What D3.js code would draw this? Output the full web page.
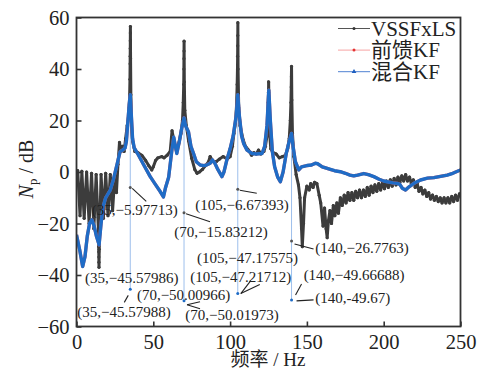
<!DOCTYPE html>
<html>
<head>
<meta charset="utf-8">
<script src="https://cdn.jsdelivr.net/npm/d3@7"></script>
<style>
  body { margin: 0; background: #fff; }
  text { font-family: "Liberation Serif", "Noto Sans CJK SC", serif; fill: #222; }
</style>
</head>
<body>
<div id="chart"></div>
<script>
const MARGIN = {TOP: 17.5, BOTTOM: 45.5, LEFT: 76.5, RIGHT: 20.5};
const W = 481, H = 372;
const WIDTH = W - MARGIN.LEFT - MARGIN.RIGHT;
const HEIGHT = H - MARGIN.TOP - MARGIN.BOTTOM;

// series names
const seriesNames = ['VSSFxLS', '前馈KF', '混合KF'];
const xTicks = [0, 50, 100, 150, 200, 250];
const yTicks = [-60, -40, -20, 0, 20, 40, 60];

// VSSFxLS [Hz, dB]
const vssfxls = [
  [0,-1],[0.8,0.5],[2.3,-17],[3.5,0.3],[5,-18],[6.6,0],[8.2,-20],[9.8,-0.5],[11.3,-22],[12.8,-1],
  [14.3,-23],[14.4,-26],[14.45,-29],[14.5,-31],[14.55,-33],[14.6,-35],[14.65,-37],[14.8,-30],[15.2,-20],
  [16,-1],[17.5,-18],[19,-0.5],[20.5,-17],[22,-1],[23.5,-15],[25,-1],[26,-8],[27,3],[28,11.5],[29,8],
  [30,10],[31,8],[32,13],[33,18],[33.8,21],[34.3,25],[34.6,30],[34.8,36],[34.9,42],[34.95,45],[35,48],
  [35.03,51],[35.06,54],[35.1,56.5],[35.2,44],[35.4,30],[35.8,18],[36.5,12],[38,8],[40,7.5],[42.5,6.5],
  [45,4.5],[47,2.5],[49,0.8],[50,2],[51.5,4.5],[53,5.5],[55.5,6],[57,5.5],[59,6.5],[61,8],[62.2,16],
  [63.5,12],[65,8.5],[66.5,11],[68,15],[69,20],[69.5,27],[69.8,34],[69.9,40],[69.95,44],[70,47],
  [70.05,50.8],[70.2,35],[70.5,24],[71.5,18],[73,12],[75,5.3],[77,1],[78.5,-0.5],[80,0],[82,1],
  [84,2.5],[86,4],[87,6],[89,4],[91,4],[93,5],[95.5,6],[98,5],[100,6],[101.5,10],[102.5,15],
  [103.5,19],[104.2,26],[104.6,34],[104.8,40],[104.9,45],[104.95,49],[105,53],[105.05,58],[105.2,40],
  [105.6,25],[106.5,18],[108.5,12.5],[110,10],[112,8.5],[114,6.5],[115.5,7.5],[117,7],[118.5,8.5],
  [120,7],[122,8],[123,10],[124,14],[124.5,20],[124.8,27],[125,31],[125.1,35],[125.3,25],[125.7,15],
  [126.5,9],[128,7.5],[130,7],[132,5.5],[134,6],[136,6.5],[137.5,9],[138.5,13],[139.2,20],[139.6,27],
  [139.8,33],[139.9,37],[140,41],[140.2,28],[140.6,15],[141.5,6],[143,-1],[144.5,-5],[145.5,-10],
  [146.5,-22],[147,-29],[147.8,-20],[148.5,-10],[150,-5.5],[151.5,-7],[152.5,-4.5],[154,-6],[155,-4],
  [156.5,-4.5],[158,-9],[159,-12],[160.5,-21],[161.5,-14],[162.5,-22],[163.2,-25.5],[164,-19],
  [165,-15],[166,-20],[167.2,-13],[168.2,-17],[169.5,-12],[170.5,-16],[171.8,-10],[173,-13],
  [174.3,-9],[175.5,-12],[176.8,-8],[178,-11],[179.3,-8],[180.5,-11],[181.8,-7.5],[183,-10],
  [184.3,-7],[185.5,-10],[186.8,-7],[188,-9.5],[189.3,-6],[190.5,-9],[191.8,-5.5],[193,-8],
  [194.3,-5],[195.5,-7.5],[196.8,-4.5],[198,-7],[199.3,-4],[200.5,-6.5],[201.8,-3.5],[203,-6],
  [204.3,-3],[205.5,-5.5],[206.8,-2.5],[208,-5],[209.3,-2],[210.5,-4],[211.8,-1.5],[213,-3.5],
  [214.3,-1],[215.5,-3.5],[216.8,-2],[218,-4.5],[219.3,-3],[220.5,-6],[221.8,-4.5],[223,-7.5],
  [224.3,-6],[225.5,-8.5],[226.8,-7],[228,-9.5],[229.3,-8],[230.5,-10.5],[231.8,-9],[233,-11],
  [234.3,-9.5],[235.5,-11.5],[236.8,-10],[238,-12],[239.3,-10],[240.5,-12],[241.8,-10],[243,-12],
  [244.3,-9.5],[245.5,-11.5],[246.8,-9],[248,-11],[249.3,-8.5],[250,-9]
];

// 混合KF [Hz, dB]
const hybridKF = [
  [0,-24.4],[2,-30],[4,-36.7],[5.5,-33],[7,-25],[8.5,-20],[10,-18.6],[11.5,-21],[13,-25],[14.7,-28.3],
  [16,-20],[17.3,-13.5],[19,-10],[22,-7],[24,-3],[26,2],[28.4,7.9],[30,8.5],[31.6,9.3],[32.5,12],
  [33.5,20],[34.3,26],[35,30],[35.7,22],[36.5,13],[37.5,9.5],[40.3,6.6],[44,2.5],[48,-1.8],[51,-4.5],
  [54.5,-7.6],[56.6,-9.7],[58,-6],[60,-2],[62,8],[63.3,13.5],[65.3,7.2],[67,12],[68.5,17],[70,21],
  [71,18],[72.9,15.6],[74.5,10],[76.2,7.2],[78,4],[80.5,2.7],[83,2.5],[85,2.8],[87,3.4],[88.5,4.7],
  [90,3.5],[92,1],[94.7,-1.8],[96,0],[98,5],[100,9],[102,14],[104,22],[105,30],[106,22],[107.5,14],
  [108.8,11.1],[111,8.5],[114.3,7.2],[117,7],[120.8,7.2],[122.5,10],[124,18],[125.2,31.8],[126.2,20],
  [127.5,8],[129,2],[131,-2],[132.7,-3.8],[134.5,0],[136.5,7],[138.5,12],[140,15],[141,10],[142.5,4],
  [144.7,0.8],[146.5,2],[150,2.5],[153,2.7],[155.5,3.4],[157,3.2],[160,2],[163.2,1.4],[165.3,1],
  [168,0.5],[171.8,0.1],[175,-0.5],[178,-1.2],[180.5,-1.5],[183,-1.2],[187,-0.6],[190,-1],[193.6,-1.8],
  [197,-2.8],[200,-3.5],[202.3,-3.8],[206,-4.2],[208.8,-4.4],[210.5,-4.8],[212.1,-6.3],[214.2,-7],
  [216,-6],[219.7,-4.4],[224,-3.1],[228.4,-2.4],[232.7,-2.2],[237,-1.7],[241.4,-1.2],[245,-0.5],[250,0.8]
];

// 前馈KF lies under 混合KF almost everywhere
const feedforwardKF = hybridKF.map(d => [d[0], d[1]]);

// data tips
const tipFreqs = [35, 70, 105, 140];
const tipPeaks = [30, 21, 30, 15];
const tipUpper = [-5.97713, -15.83212, -6.67393, -26.7763];
const tipLower = [-45.57988, -50.01973, -47.21712, -49.67];
const tipLabels = [
  {f: 35, v: -5.97713, text: '(35,−5.97713)'},
  {f: 70, v: -15.83212, text: '(70,−15.83212)'},
  {f: 105, v: -6.67393, text: '(105,−6.67393)'},
  {f: 140, v: -26.7763, text: '(140,−26.7763)'},
  {f: 35, v: -45.57988, text: '(35,−45.57986)'},
  {f: 35, v: -45.57988, text: '(35,−45.57988)'},
  {f: 70, v: -50.01973, text: '(70,−50.00966)'},
  {f: 70, v: -50.01973, text: '(70,−50.01973)'},
  {f: 105, v: -47.21712, text: '(105,−47.17575)'},
  {f: 105, v: -47.21712, text: '(105,−47.21712)'},
  {f: 140, v: -49.67, text: '(140,−49.66688)'},
  {f: 140, v: -49.67, text: '(140,-49.67)'}
];
// label offsets from the dot, px: [dx, dy, leader x1, y1, x2, y2]
const tipLayout = [
  [-38.5, 22.6, 2, 1, 16, 14],
  [-9.8, 18.9, 2, 1, 26, 9],
  [-42.5, 15.8, 2, 1, 19, 4],
  [23.8, 7.3, 3, 3, 22, 8],
  [-45.2, -11.2, 0, 0, 0, 0],
  [-52.9, 22.2, -2, 6, -6, 13],
  [-47.1, -5.9, 0, 0, 0, 0],
  [1.2, 14.1, 3, 4, 16, 1],
  [-40.8, -35.4, 3, 0, 13, -13],
  [-47.5, -17, 3, 0, 22, -9],
  [12.1, -25, 4, -5, 10, -16],
  [23.8, -1.7, 5, 1, 22, 0]
];

const COLORS = {grey: '#3c3c3c', red: '#f05a5a', blue: '#1f6cc6', thin: '#9dbfec'};

const svg = d3.select('#chart').append('svg')
  .attr('width', W).attr('height', H);

const g = svg.append('g')
  .attr('transform', `translate(${MARGIN.LEFT}, ${MARGIN.TOP})`);

const x = d3.scaleLinear().domain([0, 250]).range([0, WIDTH]);
const y = d3.scaleLinear().domain([-60, 60]).range([HEIGHT, 0]);

g.append('clipPath').attr('id', 'clip')
  .append('rect').attr('width', WIDTH).attr('height', HEIGHT);

const plot = g.append('g').attr('clip-path', 'url(#clip)');

const line = d3.line().x(d => x(d[0])).y(d => y(d[1]));

// thin data tip lines
plot.selectAll('.vline').data(tipFreqs).enter().append('line')
  .attr('x1', d => x(d)).attr('x2', d => x(d))
  .attr('y1', (d, i) => y(tipPeaks[i]))
  .attr('y2', (d, i) => y(tipLower[i]))
  .attr('stroke', COLORS.thin).attr('stroke-width', 1);

plot.append('path').datum(vssfxls)
  .attr('d', line).attr('fill', 'none')
  .attr('stroke', COLORS.grey).attr('stroke-width', 3)
  .attr('stroke-linejoin', 'round');

plot.selectAll('.gdot').data(vssfxls).enter().append('circle')
  .attr('cx', d => x(d[0])).attr('cy', d => y(d[1]))
  .attr('r', 1.6).attr('fill', COLORS.grey);

plot.append('path').datum(feedforwardKF)
  .attr('d', line).attr('fill', 'none')
  .attr('stroke', COLORS.red).attr('stroke-width', 3.2)
  .attr('stroke-linejoin', 'round');

plot.append('path').datum(hybridKF)
  .attr('d', line).attr('fill', 'none')
  .attr('stroke', COLORS.blue).attr('stroke-width', 3.4)
  .attr('stroke-linejoin', 'round');

// data tip dots
plot.selectAll('.udot').data(tipFreqs).enter().append('circle')
  .attr('cx', d => x(d)).attr('cy', (d, i) => y(tipUpper[i]))
  .attr('r', 1.5).attr('fill', '#555');
plot.selectAll('.ldot').data(tipFreqs).enter().append('circle')
  .attr('cx', d => x(d)).attr('cy', (d, i) => y(tipLower[i]))
  .attr('r', 1.5).attr('fill', COLORS.blue);

// labels + leaders
tipLabels.forEach((t, i) => {
  const [dx, dy, lx1, ly1, lx2, ly2] = tipLayout[i];
  const px = x(t.f), py = y(t.v);
  if (lx1 || lx2) {
    g.append('line')
      .attr('x1', px + lx1).attr('y1', py + ly1)
      .attr('x2', px + lx2).attr('y2', py + ly2)
      .attr('stroke', '#222').attr('stroke-width', 1.1);
  }
  if (i === 7) {
    g.append('line')
      .attr('x1', px + 3).attr('y1', py + 4)
      .attr('x2', px + 16).attr('y2', py + 8)
      .attr('stroke', '#222').attr('stroke-width', 1.1);
  }
  g.append('text')
    .attr('x', px + dx).attr('y', py + dy)
    .attr('dominant-baseline', 'central')
    .style('font-size', '15px')
    .text(t.text);
});

// frame
g.append('rect')
  .attr('width', WIDTH).attr('height', HEIGHT)
  .attr('fill', 'none').attr('stroke', '#333').attr('stroke-width', 1.8);

// axes
const xAxis = g.append('g')
  .attr('transform', `translate(0, ${HEIGHT})`)
  .call(d3.axisBottom(x).tickValues(xTicks).tickSizeInner(-5).tickSizeOuter(0).tickPadding(8));
const yAxis = g.append('g')
  .call(d3.axisLeft(y).tickValues(yTicks).tickSizeInner(-5).tickSizeOuter(0).tickPadding(7)
    .tickFormat(d => d < 0 ? '−' + Math.abs(d) : d));

[xAxis, yAxis].forEach(a => {
  a.select('.domain').remove();
  a.selectAll('line').attr('stroke', '#333').attr('stroke-width', 1.6);
  a.selectAll('text')
    .style('font-family', '"Liberation Serif", serif')
    .style('font-size', '20.5px').attr('fill', '#222');
});
yAxis.selectAll('text').attr('dy', '0.34em');

// axis titles
svg.append('text')
  .attr('x', 268).attr('y', 366)
  .attr('text-anchor', 'middle')
  .style('font-size', '19px')
  .text('频率 / Hz');

const yTitle = svg.append('text')
  .attr('transform', 'translate(33, 169) rotate(-90)')
  .attr('text-anchor', 'middle')
  .style('font-size', '20px');
yTitle.append('tspan').style('font-style', 'italic').text('N');
yTitle.append('tspan').attr('dy', 4).style('font-size', '13px').text('p');
yTitle.append('tspan').attr('dy', -4).text(' / dB');

// legend
const legendColors = ['#555', '#f6a3a3', '#4f82d2'];
const markerColors = ['#333', '#e53333', '#1f5fc0'];
const legend = svg.append('g');
seriesNames.forEach((name, i) => {
  const ly = 28.5 + i * 21.6;
  legend.append('line')
    .attr('x1', 338).attr('x2', 370).attr('y1', ly).attr('y2', ly)
    .attr('stroke', legendColors[i]).attr('stroke-width', 1);
  if (i < 2) {
    legend.append('circle').attr('cx', 354).attr('cy', ly).attr('r', 1.5)
      .attr('fill', markerColors[i]);
  } else {
    legend.append('path')
      .attr('d', d3.symbol().type(d3.symbolTriangle).size(10))
      .attr('transform', `translate(354, ${ly})`)
      .attr('fill', markerColors[i]);
  }
  legend.append('text')
    .attr('x', 371).attr('y', ly)
    .attr('dominant-baseline', 'central')
    .style('font-size', '21px')
    .text(name);
});
</script>
</body>
</html>
